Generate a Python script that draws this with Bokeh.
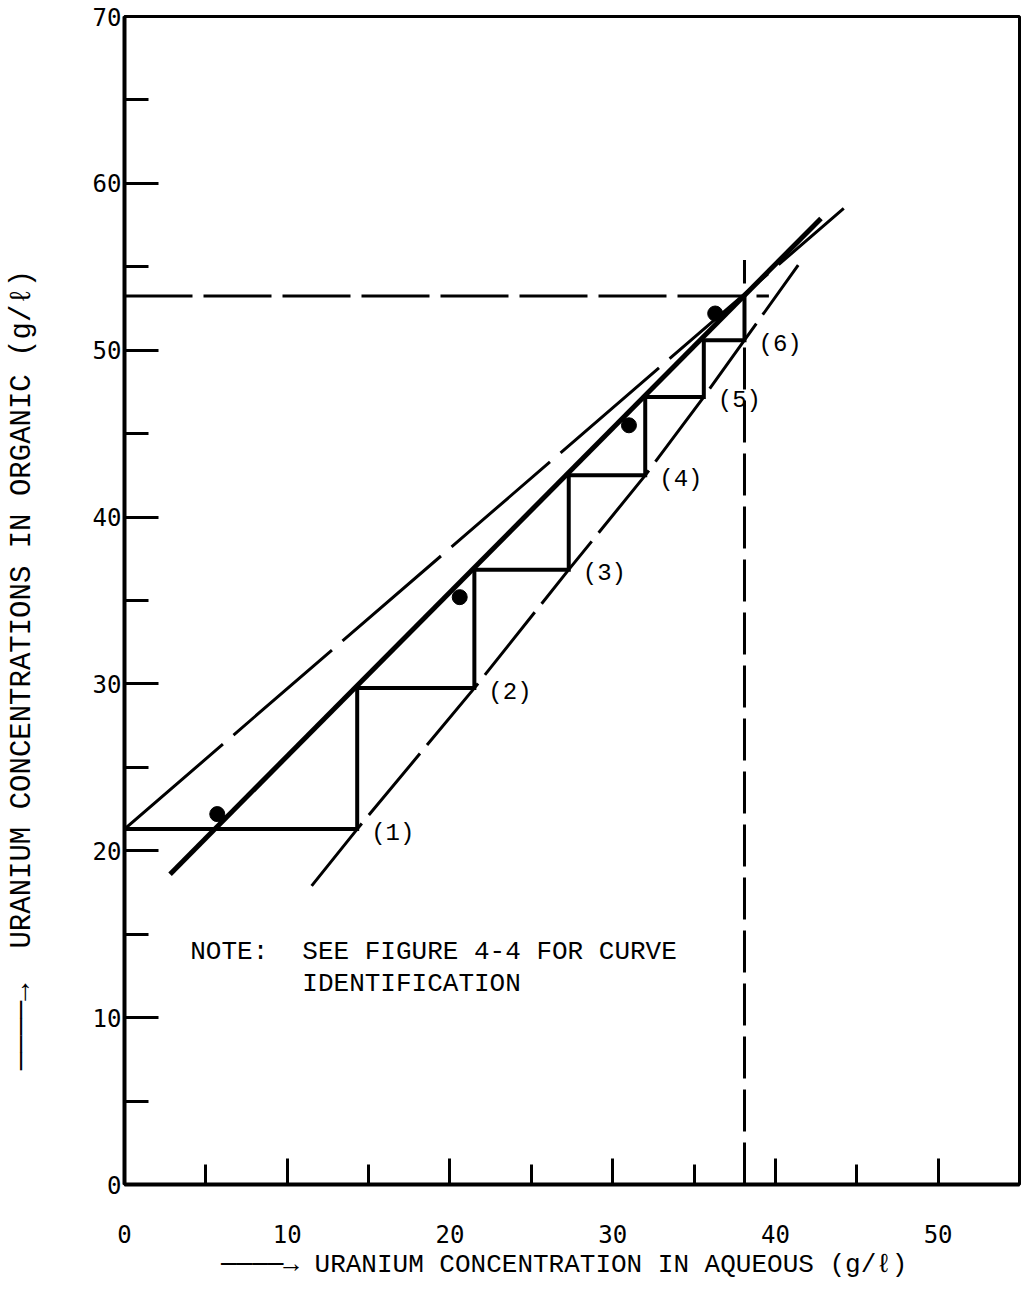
from bokeh.plotting import figure
from bokeh.models import FixedTicker, Label, Range1d, LinearAxis
from bokeh.embed import file_html
from bokeh.resources import INLINE
from bokeh.core.properties import value

# ---------------- data ----------------
x_ticks = [0, 10, 20, 30, 40, 50]
x_minor = [5, 15, 25, 35, 45]
y_ticks = [0, 10, 20, 30, 40, 50, 60, 70]
y_minor = [5, 15, 25, 35, 45, 55, 65]

# stage construction (aqueous, organic) for stages (1)..(6)
stage_labels = ["(1)", "(2)", "(3)", "(4)", "(5)", "(6)"]
stage_aq = [14.3, 21.5, 27.3, 32.0, 35.6, 38.1]
stage_org = [21.3, 29.75, 36.85, 42.5, 47.2, 50.6]
final_org = 53.25

# thick solid curve
eq_x = [2.8, 42.8]
eq_y = [18.6, 57.9]
# upper long-dash line
upper_x = [0.0, 44.2]
upper_y = [21.3, 58.5]
# lower dashed curve through the stage points
lower_x = [11.5, 14.3, 21.5, 27.3, 32.0, 35.6, 38.1, 41.4]
lower_y = [17.9, 21.3, 29.75, 36.85, 42.5, 47.2, 50.6, 55.1]
# measured points
pts_x = [5.7, 20.6, 31.0, 36.3]
pts_y = [22.2, 35.2, 45.5, 52.2]
# guide (dashed) lines
guide_h_x = [0.0, 39.6]
guide_v_x = 38.1
guide_v_y = [0.0, 55.4]

# ---------------- figure ----------------
p = figure(width=1024, height=1300,
           x_range=Range1d(0, 55.0), y_range=Range1d(0, 70),
           output_backend="svg", toolbar_location=None,
           min_border_left=124, min_border_right=5,
           min_border_top=16, min_border_bottom=116)
p.grid.visible = False
p.outline_line_color = "black"
p.outline_line_width = 3
p.background_fill_color = "white"
p.border_fill_color = "white"

FONT_T = "Liberation Mono"
FONT_N = "DejaVu Sans Mono"
NB = "\u00a0"
ARROW = "\u2500" * 4 + "\u2192"

xa = p.xaxis[0]
xa.ticker = FixedTicker(ticks=x_ticks, minor_ticks=x_minor)
xa.major_tick_in = 26
xa.major_tick_out = 0
xa.minor_tick_in = 20
xa.minor_tick_out = 0
xa.major_tick_line_width = 3
xa.minor_tick_line_width = 3
xa.axis_line_width = 4
xa.major_label_standoff = 40
xa.major_label_text_font = FONT_N
xa.major_label_text_font_size = "24px"
xa.major_label_text_color = "black"
xa.axis_label = ARROW + " URANIUM CONCENTRATION IN AQUEOUS (g/\u2113)" + NB
xa.axis_label_text_font = FONT_T
xa.axis_label_text_font_size = "26px"
xa.axis_label_text_font_style = "normal"
xa.axis_label_text_color = "black"
xa.axis_label_standoff = 4

ya = p.yaxis[0]
ya.ticker = FixedTicker(ticks=y_ticks, minor_ticks=y_minor)
ya.major_tick_in = 34
ya.major_tick_out = 0
ya.minor_tick_in = 24
ya.minor_tick_out = 0
ya.major_tick_line_width = 3
ya.minor_tick_line_width = 3
ya.axis_line_width = 4
ya.major_label_standoff = 3
ya.major_label_text_font = FONT_N
ya.major_label_text_font_size = "24px"
ya.major_label_text_color = "black"
ya.axis_label = ARROW + NB * 2 + "URANIUM CONCENTRATIONS IN ORGANIC (g/\u2113)" + NB * 8
ya.axis_label_text_font = FONT_T
ya.axis_label_text_font_size = "29px"
ya.axis_label_text_font_style = "normal"
ya.axis_label_text_color = "black"
ya.axis_label_standoff = 51

# the vertical guide continues a little below the x axis: one tick of an
# extra axis pinned at y = 0
tail_axis = LinearAxis(fixed_location=0,
                       ticker=FixedTicker(ticks=[guide_v_x], minor_ticks=[]),
                       major_tick_in=33, major_tick_out=0, major_tick_line_width=3,
                       major_tick_line_color="black",
                       minor_tick_line_color=None, axis_line_color=None,
                       major_label_overrides={guide_v_x: ""},
                       major_label_text_font_size="10px", major_label_standoff=0)
p.add_layout(tail_axis, "above")

# ---------------- lines ----------------
p.line(upper_x, upper_y, line_width=3, color="black", line_dash="130 14")
p.line(eq_x, eq_y, line_width=5, color="black")
p.line(lower_x, lower_y, line_width=3, color="black", line_dash="80 11")

# staircase built from the stage arrays
sx = [0.0]
sy = [stage_org[0]]
for i, a in enumerate(stage_aq):
    nxt = stage_org[i + 1] if i + 1 < len(stage_org) else final_org
    sx += [a, a]
    sy += [stage_org[i], nxt]
p.line(sx, sy, line_width=4, color="black", line_join="miter")

# dashed guides
p.line(guide_h_x, [final_org, final_org], line_width=3, color="black", line_dash="68 11")
p.line([guide_v_x, guide_v_x], guide_v_y, line_width=3, color="black", line_dash="42 11")

# measured points
p.scatter(pts_x, pts_y, size=15, color="black")

# stage labels
p.text(x=stage_aq, y=stage_org, text=stage_labels, x_offset=14, y_offset=4,
       text_font=value(FONT_T), text_font_size="24px", text_color="black",
       text_align="left", text_baseline="middle")

# note
for tx, ty, tt in [(4.04, 13.94, "NOTE:"), (10.93, 13.94, "SEE FIGURE 4-4 FOR CURVE"),
                   (10.93, 12.02, "IDENTIFICATION")]:
    p.add_layout(Label(x=tx, y=ty, text=tt, text_font=FONT_T, text_font_size="26px",
                       text_color="black", text_align="left", text_baseline="middle"))

open("out.html", "w").write(file_html(p, INLINE))
